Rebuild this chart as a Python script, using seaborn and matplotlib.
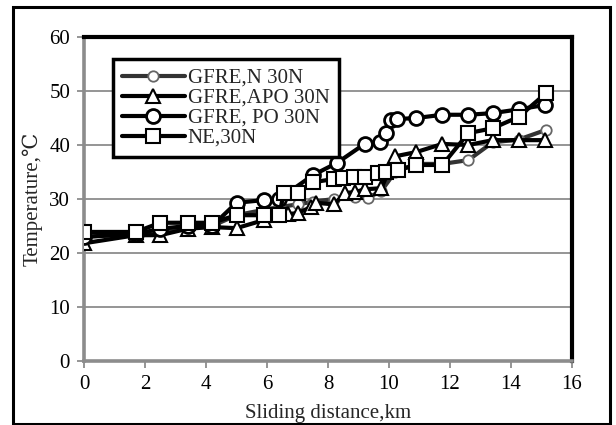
import matplotlib
matplotlib.use("Agg")
import matplotlib.pyplot as plt
import seaborn as sns
import pandas as pd
from matplotlib.patches import Rectangle

sns.set_theme(style="white")
plt.rcParams['font.family'] = ['Liberation Serif', 'DejaVu Serif']

# ---- data ----
x_n = [0, 1.7, 2.5, 3.4, 4.2, 5.0, 5.9, 6.4, 7.0, 7.5, 8.2, 8.9, 9.3, 9.75, 10.2, 10.9, 11.75, 12.6, 13.4, 14.25, 15.15]
y_n = [23, 23.5, 24, 25, 25, 27, 28, 28.5, 29, 29.5, 30, 30.3, 30.2, 31.5, 35, 36.5, 36.5, 37.2, 40.5, 41, 42.8]

x_apo = [0, 1.7, 2.5, 3.4, 4.2, 5.0, 5.9, 6.7, 7.0, 7.45, 7.6, 8.2, 8.55, 8.9, 9.2, 9.75, 10.2, 10.9, 11.75, 12.6, 13.4, 14.25, 15.1]
y_apo = [21.8, 23.3, 23.3, 24.5, 24.8, 24.6, 26.1, 27.2, 27.4, 28.5, 29.3, 29.0, 31.1, 31.3, 31.8, 32.0, 37.9, 38.7, 40.2, 40.0, 40.9, 40.9, 40.9]

x_po = [0, 1.7, 2.5, 3.4, 4.2, 5.0, 5.9, 6.4, 7.5, 8.3, 9.2, 9.7, 9.9, 10.05, 10.25, 10.9, 11.75, 12.6, 13.4, 14.25, 15.1]
y_po = [23, 23.5, 24.5, 25, 25, 29.3, 29.8, 30.0, 34.4, 36.7, 40.2, 40.6, 42.3, 44.6, 44.8, 45.0, 45.6, 45.6, 45.9, 46.6, 47.4]

x_ne = [0, 1.7, 2.5, 3.4, 4.2, 5.0, 5.9, 6.4, 6.55, 7.0, 7.5, 8.2, 8.5, 8.85, 9.2, 9.65, 9.9, 10.3, 10.9, 11.75, 12.6, 13.4, 14.25, 15.15]
y_ne = [23.9, 23.9, 25.6, 25.6, 25.6, 27.0, 27.0, 27.0, 31.1, 31.1, 33.1, 33.7, 33.9, 34.1, 34.1, 34.8, 35.0, 35.4, 36.3, 36.3, 42.2, 43.1, 45.2, 49.6]

labels = ["GFRE,N 30N", "GFRE,APO 30N", "GFRE, PO 30N", "NE,30N"]
x_ticks = [0, 2, 4, 6, 8, 10, 12, 14, 16]
y_ticks = [0, 10, 20, 30, 40, 50, 60]

FS = 15

fig = plt.figure(figsize=(6.16, 4.25), dpi=100)
ax = fig.add_axes([84/616, 1-361/425, (572-84)/616, (361-37)/425])

# outer frame
fig.patches.append(Rectangle((13/616, 0.002), (610-13)/616, 1-7/425-0.002,
                             transform=fig.transFigure, fill=False,
                             edgecolor='black', linewidth=2.2, zorder=0))

ax.yaxis.grid(True, color='#8c8c8c', linewidth=1.3)
ax.set_axisbelow(True)

df_n = pd.DataFrame({"x": x_n, "y": y_n})
df_apo = pd.DataFrame({"x": x_apo, "y": y_apo})
df_po = pd.DataFrame({"x": x_po, "y": y_po})
df_ne = pd.DataFrame({"x": x_ne, "y": y_ne})

sns.lineplot(data=df_n, x="x", y="y", ax=ax, color='#333333', linewidth=3.0,
             marker='o', markersize=7.5, markerfacecolor='white',
             markeredgecolor='#666666', markeredgewidth=1.3, label=labels[0], zorder=2)
sns.lineplot(data=df_apo, x="x", y="y", ax=ax, color='black', linewidth=3.0,
             marker='^', markersize=10, markerfacecolor='white',
             markeredgecolor='black', markeredgewidth=1.5, label=labels[1], zorder=3)
sns.lineplot(data=df_po, x="x", y="y", ax=ax, color='black', linewidth=3.0,
             marker='o', markersize=10, markerfacecolor='white',
             markeredgecolor='black', markeredgewidth=2.0, label=labels[2], zorder=4)
sns.lineplot(data=df_ne, x="x", y="y", ax=ax, color='black', linewidth=3.0,
             marker='s', markersize=10, markerfacecolor='white',
             markeredgecolor='black', markeredgewidth=1.5, label=labels[3], zorder=5)

ax.set_xlim(0, 16)
ax.set_ylim(0, 60)
ax.set_xticks(x_ticks)
ax.set_yticks(y_ticks)
ax.tick_params(axis='both', which='both', direction='out', length=5, width=1.3,
               color='#8c8c8c', labelsize=FS, labelcolor='black', pad=5)
ax.tick_params(axis='x', bottom=True)
ax.tick_params(axis='y', left=True)

for s in ['left', 'bottom']:
    ax.spines[s].set_color('#8c8c8c')
    ax.spines[s].set_linewidth(2.6)
for s in ['top', 'right']:
    ax.spines[s].set_color('black')
    ax.spines[s].set_linewidth(3)
    ax.spines[s].set_visible(True)

ax.set_xlabel("Sliding distance,km", fontsize=FS, labelpad=7)
ax.set_ylabel("Temperature,\u2103", fontsize=FS, labelpad=5)

leg = ax.legend(loc='upper left', bbox_to_anchor=(0.059, 0.932), borderaxespad=0,
                fontsize=FS, handlelength=3.0, handletextpad=0.15, labelspacing=0.02,
                borderpad=0.45, fancybox=False, frameon=True, framealpha=1)
leg.get_frame().set_edgecolor('black')
leg.get_frame().set_linewidth(2.5)

fig.savefig("out.png", dpi=100)
